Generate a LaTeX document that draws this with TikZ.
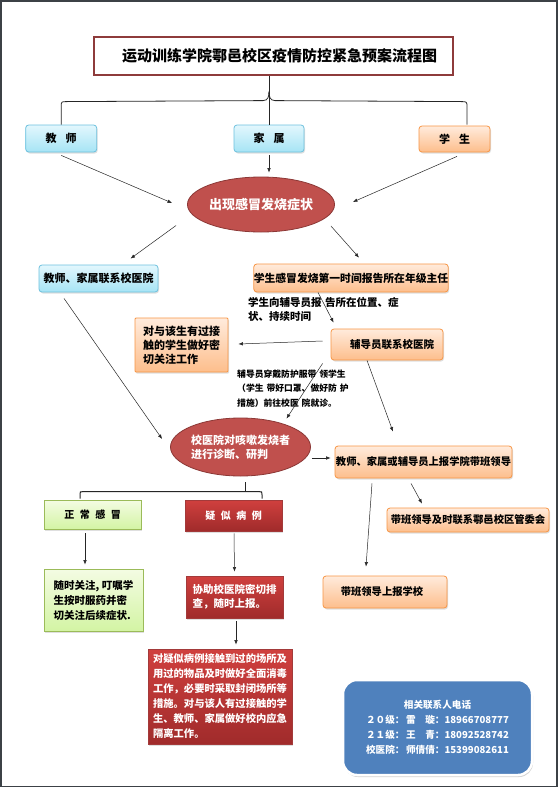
\documentclass[tikz,border=0pt]{standalone}
\usepackage{fontspec}
\setmainfont{Noto Sans CJK SC}
\usepackage{xcolor}
\usetikzlibrary{shapes.geometric, arrows.meta, positioning, calc, shadows}

\definecolor{pageEdge}{HTML}{3C4146}
\definecolor{titleLine}{HTML}{8E3B3B}
\definecolor{cyanLine}{HTML}{6EC1DE}
\definecolor{cyanTop}{HTML}{E3F7FD}
\definecolor{cyanBot}{HTML}{A6E4F5}
\definecolor{orangeLine}{HTML}{F79646}
\definecolor{orangeTop}{HTML}{FFEBDC}
\definecolor{orangeBot}{HTML}{FDBE8C}
\definecolor{greenLine}{HTML}{9BBB59}
\definecolor{greenTop}{HTML}{F4FCE3}
\definecolor{greenBot}{HTML}{D3F4A4}
\definecolor{redLine}{HTML}{A33A3A}
\definecolor{redTop}{HTML}{D0403E}
\definecolor{redBot}{HTML}{A02B2B}
\definecolor{ovalFill}{HTML}{C0504D}
\definecolor{ovalLine}{HTML}{8C3836}
\definecolor{phoneFill}{HTML}{4F81BD}

\tikzset{
    box/.style={rectangle, rounded corners=3pt, draw, line width=0.8pt, inner sep=0pt,
        font=\fontsize{11}{14}\selectfont\bfseries,
        drop shadow={opacity=0.25, shadow xshift=1pt, shadow yshift=-1.5pt}},
    cyanbox/.style={box, draw=cyanLine, top color=cyanTop, bottom color=cyanBot},
    orangebox/.style={box, draw=orangeLine, top color=orangeTop, bottom color=orangeBot},
    greenbox/.style={box, rounded corners=0pt, draw=greenLine, top color=greenTop, bottom color=greenBot},
    redbox/.style={box, rounded corners=0pt, draw=redLine, top color=redTop, bottom color=redBot, text=white},
    oval/.style={ellipse, draw=ovalLine, line width=0.8pt, fill=ovalFill, text=white, inner sep=0pt},
    arrow/.style={-{Latex[length=4.5pt,width=3.5pt]}, line width=0.5pt, draw=black!85},
    link/.style={line width=0.5pt, draw=black!85},
    notetext/.style={inner sep=0pt, align=left, anchor=north west, font=\fontsize{10.5}{14}\selectfont\bfseries},
}

\begin{document}
\begin{tikzpicture}[x=1pt, y=-1pt]
    \useasboundingbox (0,0) rectangle (558,787);
    \fill[pageEdge] (0,0) rectangle (558,787);
    \fill[white] (2,1.5) rectangle (555.5,785.5);

    % title and the three groups
    \node[draw=titleLine, line width=1.5pt, fill=white, minimum width=359pt, minimum height=38pt,
        font=\fontsize{15}{18}\selectfont\bfseries] (title) at (273.5,56) {\hspace*{12pt}运动训练学院鄠邑校区疫情防控紧急预案流程图};
    \node[cyanbox, minimum width=71pt, minimum height=27pt] (teacher) at (61.2,138.5) {教\hspace{9pt}师};
    \node[cyanbox, minimum width=70pt, minimum height=27pt] (family) at (269,138.5) {家\hspace{9pt}属};
    \node[orangebox, minimum width=71pt, minimum height=26pt] (student) at (454.5,139) {学\hspace{9pt}生};

    \draw[link, line width=0.8pt] (title.south -| family) -- (family.north);
    \draw[link, line width=0.8pt] (teacher.north) -- ++(0,-18) .. controls ++(0,-5) .. ++(6,-5) -- ($(family.north)+(-6,-24)$)
        .. controls ($(family.north)+(-1,-24)$) and ($(family.north)+(0,-28)$) .. ($(family.north)+(0,-33)$);
    \draw[link, line width=0.8pt] ($(family.north)+(0,-33)$) .. controls ($(family.north)+(0,-28)$) and ($(family.north)+(1,-24)$)
        .. ($(family.north)+(6,-24)$) -- ($(student.north)+(6.5,-24)$) .. controls ($(student.north)+(12.5,-24)$) .. ($(student.north)+(12.5,-18)$)
        -- ($(student.north)+(12.5,-1)$);

    % symptoms
    \node[oval, minimum width=122pt, minimum height=55pt, font=\fontsize{13}{16}\selectfont\bfseries] (symptom) at (261,204.5) {出现感冒发烧症状};
    \draw[arrow] ($(teacher.south)+(0,3)$) -- ($(symptom.west)+(-15,-1.5)$);
    \draw[arrow] ($(family.south)+(0,3)$) -- ($(family.south |- symptom.north)+(0,-4)$);
    \draw[arrow] ($(student.south)+(2.5,4)$) -- ($(symptom.east)+(18,-2.5)$);

    \node[cyanbox, minimum width=119pt, minimum height=27pt] (callclinic) at (98.5,278.5) {教师、家属联系校医院};
    \node[orangebox, minimum width=194pt, minimum height=28pt, font=\fontsize{10.8}{14}\selectfont\bfseries] (report) at (351,278) {学生感冒发烧第一时间报告所在年级主任};
    \draw[arrow] ($(symptom.west)+(-11,21)$) -- ($(callclinic.north)+(32,-6)$);
    \draw[arrow] ($(symptom.east)+(-4,21.5)$) -- ($(report.north)+(8,-6)$);

    % counselor branch
    \node[notetext] (tellnote) at (248,297) {学生向辅导员报\,\,告所在位置、症\\状、持续时间};
    \node[orangebox, minimum width=112pt, minimum height=31pt, font=\fontsize{10.5}{14}\selectfont\bfseries] (counselor) at (387,344.5) {\hspace*{10pt}辅导员联系校医院};
    \node[orangebox, minimum width=93pt, minimum height=54pt, align=left, rounded corners=1pt] (watch) at (181.5,345) {对与该生有过接\\触的学生做好密\\切关注工作\hspace*{22pt}};
    \draw[arrow] ($(report.south)+(-33,0)$) -- ($(counselor.north west)+(3,-6)$);
    \draw[arrow] ($(counselor.west)+(-8,-3.5)$) -- ($(watch.east)+(10,-1)$);

    \node[notetext, font=\fontsize{8.8}{14.5}\selectfont\bfseries] (escort) at (237,369.5) {辅导员穿戴防护服带\,\,领学生\\（学生\,\,带好口罩、做好防\,\,护\\措施）前往校医\,\,院就诊。};

    % diagnosis
    \node[oval, minimum width=119pt, minimum height=58pt, align=left, font=\fontsize{11}{14}\selectfont\bfseries] (diagnose) at (240.5,447) {校医院对咳嗽发烧者\\进行诊断、研判\hspace*{22pt}};
    \draw[arrow] ($(counselor.south west)+(-8,3)$) -- ($(diagnose.north)+(46,1)$);
    \draw[arrow] ($(callclinic.south)+(-34.5,6)$) -- ($(diagnose.west)+(-8,-8)$);

    \node[orangebox, minimum width=177pt, minimum height=32pt, font=\fontsize{10.3}{14}\selectfont\bfseries] (leader) at (423.5,462) {教师、家属或辅导员上报学院带班领导};
    \node[orangebox, minimum width=162pt, minimum height=24pt, font=\fontsize{10.3}{14}\selectfont\bfseries] (committee) at (468,520) {带班领导及时联系鄠邑校区管委会};
    \node[orangebox, minimum width=124pt, minimum height=32pt, font=\fontsize{10.3}{14}\selectfont\bfseries] (school) at (385,592) {带班领导上报学校\hspace*{6pt}};
    \draw[arrow] ($(counselor.south)+(-20,0)$) -- ($(leader.north)+(-30.5,-14)$);
    \draw[arrow] ($(diagnose.east)+(1,11)$) -- ($(leader.west)+(-4,-4)$);
    \draw[arrow] ($(leader.south)+(-12.5,5)$) -- ($(committee.north)+(-46,-4)$);
    \draw[arrow] ($(leader.south)+(-51.5,5)$) -- ($(school.north)+(-19,-9)$);

    % normal cold / suspected case
    \node[greenbox, minimum width=97pt, minimum height=29pt, font=\fontsize{10}{14}\selectfont\bfseries] (normal) at (92.5,514.5) {正\hspace{5.5pt}常\hspace{5.5pt}感\hspace{5.5pt}冒};
    \node[redbox, minimum width=97pt, minimum height=31pt, font=\fontsize{10}{14}\selectfont\bfseries] (suspect) at (233.5,515.5) {疑\hspace{5.5pt}似\hspace{5.5pt}病\hspace{5.5pt}例};
    \coordinate (split) at ($(diagnose.south)+(4.5,16)$);
    \draw[link, line width=1pt] ($(diagnose.south)+(4.5,6)$) -- (split);
    \draw[link, line width=1pt] ($(normal.north)+(-12.5,-1)$) -- ++(0,-4) .. controls ++(0,-3) .. ++(3,-3)
        -- ($(suspect.north)+(25.5,-8)$) .. controls ($(suspect.north)+(28.5,-8)$) .. ($(suspect.north)+(28.5,-5)$) -- ($(suspect.north)+(28.5,-1)$);

    \node[greenbox, minimum width=99pt, minimum height=62pt, align=left, font=\fontsize{10.5}{15}\selectfont\bfseries] (care) at (93.5,600) {随时关注, 叮嘱学\\生按时服药并密\\切关注后续症状.};
    \node[redbox, minimum width=97pt, minimum height=42pt, align=left, font=\fontsize{10.5}{14}\selectfont\bfseries] (assist) at (234.5,597) {协助校医院密切排\\查，随时上报。\hspace*{8pt}};
    \node[redbox, minimum width=144pt, minimum height=95pt, align=left, font=\fontsize{10.3}{15}\selectfont\bfseries] (disinfect) at (220,696.5)
        {对疑似病例接触到过的场所及\\用过的物品及时做好全面消毒\\工作，必要时采取封闭场所等\\措施。对与该人有过接触的学\\生、教师、家属做好校内应急\\隔离工作。};
    \draw[arrow] ($(normal.south)+(-7.5,4)$) -- ($(care.north)+(-8.5,-4)$);
    \draw[arrow] ($(suspect.south)+(0.5,2)$) -- ($(assist.north)+(0,-4)$);
    \draw[arrow] ($(assist.south)+(1.5,3)$) -- ($(disinfect.north)+(16,-4)$);

    % contacts
    \node[rectangle, rounded corners=14pt, draw=white, line width=2.5pt, fill=phoneFill, text=white,
        minimum width=189pt, minimum height=95pt, align=center, font=\fontsize{9.6}{15}\selectfont\bfseries,
        drop shadow={opacity=0.35, shadow xshift=1pt, shadow yshift=-2pt}] (phones) at (437.5,727.5)
        {相关联系人电话\\２０级：\,雷\quad 璇：18966708777\\２１级：\,王\quad 青：18092528742\\校医院：\,师倩倩：15399082611};
\end{tikzpicture}
\end{document}
